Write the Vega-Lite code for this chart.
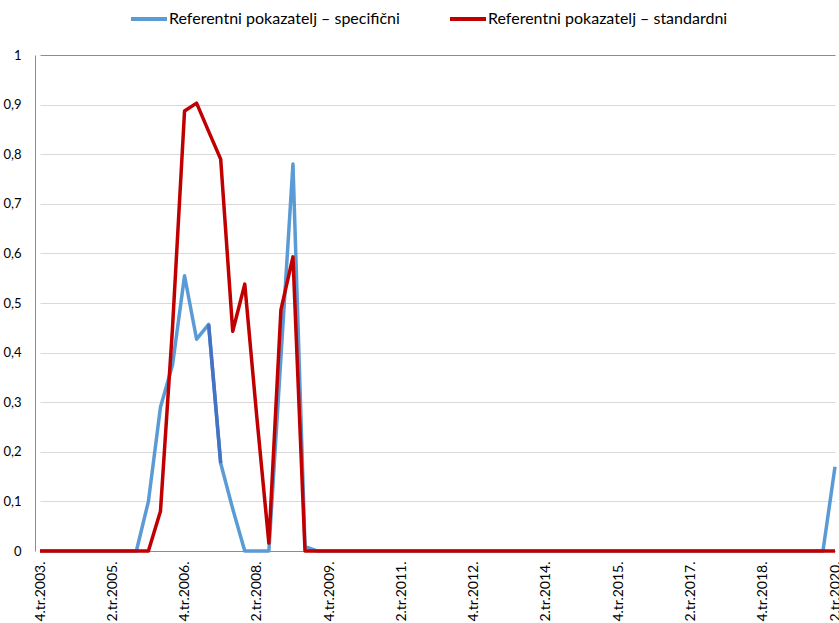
{
  "$schema": "https://vega.github.io/schema/vega-lite/v6.json",
  "autosize": {"type": "none"},
  "padding": {"left": 35, "top": 55, "right": 0, "bottom": 72},
  "width": 804,
  "height": 496,
  "background": "white",
  "config": {
    "view": {"stroke": null},
    "font": "Lato",
    "axis": {"labelFont": "Lato", "labelColor": "#000000", "labelFontSize": 13, "ticks": false, "domainColor": "#8c8c8c", "domainWidth": 1}
  },
  "data": {
    "values": [
      {"kvartal": "4.tr.2003.", "specificni": 0, "standardni": 0},
      {"kvartal": "1.tr.2004.", "specificni": 0, "standardni": 0},
      {"kvartal": "2.tr.2004.", "specificni": 0, "standardni": 0},
      {"kvartal": "3.tr.2004.", "specificni": 0, "standardni": 0},
      {"kvartal": "4.tr.2004.", "specificni": 0, "standardni": 0},
      {"kvartal": "1.tr.2005.", "specificni": 0, "standardni": 0},
      {"kvartal": "2.tr.2005.", "specificni": 0, "standardni": 0},
      {"kvartal": "3.tr.2005.", "specificni": 0, "standardni": 0},
      {"kvartal": "4.tr.2005.", "specificni": 0, "standardni": 0},
      {"kvartal": "1.tr.2006.", "specificni": 0.1, "standardni": 0},
      {"kvartal": "2.tr.2006.", "specificni": 0.29, "standardni": 0.08},
      {"kvartal": "3.tr.2006.", "specificni": 0.375, "standardni": 0.45},
      {"kvartal": "4.tr.2006.", "specificni": 0.555, "standardni": 0.887},
      {"kvartal": "1.tr.2007.", "specificni": 0.427, "standardni": 0.903},
      {"kvartal": "2.tr.2007.", "specificni": 0.457, "standardni": 0.846},
      {"kvartal": "3.tr.2007.", "specificni": 0.177, "standardni": 0.79},
      {"kvartal": "4.tr.2007.", "specificni": 0.085, "standardni": 0.443},
      {"kvartal": "1.tr.2008.", "specificni": 0, "standardni": 0.538},
      {"kvartal": "2.tr.2008.", "specificni": 0, "standardni": 0.27},
      {"kvartal": "3.tr.2008.", "specificni": 0, "standardni": 0.016},
      {"kvartal": "4.tr.2008.", "specificni": 0.39, "standardni": 0.486},
      {"kvartal": "1.tr.2009.", "specificni": 0.78, "standardni": 0.593},
      {"kvartal": "2.tr.2009.", "specificni": 0.009, "standardni": 0},
      {"kvartal": "3.tr.2009.", "specificni": 0, "standardni": 0},
      {"kvartal": "4.tr.2009.", "specificni": 0, "standardni": 0},
      {"kvartal": "1.tr.2010.", "specificni": 0, "standardni": 0},
      {"kvartal": "2.tr.2010.", "specificni": 0, "standardni": 0},
      {"kvartal": "3.tr.2010.", "specificni": 0, "standardni": 0},
      {"kvartal": "4.tr.2010.", "specificni": 0, "standardni": 0},
      {"kvartal": "1.tr.2011.", "specificni": 0, "standardni": 0},
      {"kvartal": "2.tr.2011.", "specificni": 0, "standardni": 0},
      {"kvartal": "3.tr.2011.", "specificni": 0, "standardni": 0},
      {"kvartal": "4.tr.2011.", "specificni": 0, "standardni": 0},
      {"kvartal": "1.tr.2012.", "specificni": 0, "standardni": 0},
      {"kvartal": "2.tr.2012.", "specificni": 0, "standardni": 0},
      {"kvartal": "3.tr.2012.", "specificni": 0, "standardni": 0},
      {"kvartal": "4.tr.2012.", "specificni": 0, "standardni": 0},
      {"kvartal": "1.tr.2013.", "specificni": 0, "standardni": 0},
      {"kvartal": "2.tr.2013.", "specificni": 0, "standardni": 0},
      {"kvartal": "3.tr.2013.", "specificni": 0, "standardni": 0},
      {"kvartal": "4.tr.2013.", "specificni": 0, "standardni": 0},
      {"kvartal": "1.tr.2014.", "specificni": 0, "standardni": 0},
      {"kvartal": "2.tr.2014.", "specificni": 0, "standardni": 0},
      {"kvartal": "3.tr.2014.", "specificni": 0, "standardni": 0},
      {"kvartal": "4.tr.2014.", "specificni": 0, "standardni": 0},
      {"kvartal": "1.tr.2015.", "specificni": 0, "standardni": 0},
      {"kvartal": "2.tr.2015.", "specificni": 0, "standardni": 0},
      {"kvartal": "3.tr.2015.", "specificni": 0, "standardni": 0},
      {"kvartal": "4.tr.2015.", "specificni": 0, "standardni": 0},
      {"kvartal": "1.tr.2016.", "specificni": 0, "standardni": 0},
      {"kvartal": "2.tr.2016.", "specificni": 0, "standardni": 0},
      {"kvartal": "3.tr.2016.", "specificni": 0, "standardni": 0},
      {"kvartal": "4.tr.2016.", "specificni": 0, "standardni": 0},
      {"kvartal": "1.tr.2017.", "specificni": 0, "standardni": 0},
      {"kvartal": "2.tr.2017.", "specificni": 0, "standardni": 0},
      {"kvartal": "3.tr.2017.", "specificni": 0, "standardni": 0},
      {"kvartal": "4.tr.2017.", "specificni": 0, "standardni": 0},
      {"kvartal": "1.tr.2018.", "specificni": 0, "standardni": 0},
      {"kvartal": "2.tr.2018.", "specificni": 0, "standardni": 0},
      {"kvartal": "3.tr.2018.", "specificni": 0, "standardni": 0},
      {"kvartal": "4.tr.2018.", "specificni": 0, "standardni": 0},
      {"kvartal": "1.tr.2019.", "specificni": 0, "standardni": 0},
      {"kvartal": "2.tr.2019.", "specificni": 0, "standardni": 0},
      {"kvartal": "3.tr.2019.", "specificni": 0, "standardni": 0},
      {"kvartal": "4.tr.2019.", "specificni": 0, "standardni": 0},
      {"kvartal": "1.tr.2020.", "specificni": 0, "standardni": 0},
      {"kvartal": "2.tr.2020.", "specificni": 0.17, "standardni": 0}
    ]
  },
  "transform": [
    {"fold": ["specificni", "standardni"], "as": ["serija_kljuc", "vrijednost"]},
    {"lookup": "serija_kljuc", "from": {"data": {"values": [
      {"serija_kljuc": "specificni", "serija": "Referentni pokazatelj – specifični"},
      {"serija_kljuc": "standardni", "serija": "Referentni pokazatelj – standardni"}
    ]}, "key": "serija_kljuc", "fields": ["serija"]}}
  ],
  "encoding": {
    "x": {
      "field": "kvartal",
      "type": "ordinal",
      "sort": null,
      "scale": {"type": "point", "range": [5, 800], "padding": 0},
      "axis": {
        "title": null,
        "values": ["4.tr.2003.", "2.tr.2005.", "4.tr.2006.", "2.tr.2008.", "4.tr.2009.", "2.tr.2011.", "4.tr.2012.", "2.tr.2014.", "4.tr.2015.", "2.tr.2017.", "4.tr.2018.", "2.tr.2020."],
        "labelAngle": -90,
        "labelAlign": "right",
        "labelBaseline": "middle",
        "labelPadding": 10,
        "labelFontSize": 14,
        "grid": false,
        "domainColor": "#8c8c8c"
      }
    },
    "y": {
      "field": "vrijednost",
      "type": "quantitative",
      "scale": {"domain": [0, 1], "nice": false},
      "axis": {
        "title": null,
        "values": [0, 0.1, 0.2, 0.3, 0.4, 0.5, 0.6, 0.7, 0.8, 0.9, 1],
        "labelExpr": "replace(format(datum.value, '~g'), '.', ',')",
        "labelPadding": 14,
        "labelFontSize": 13,
        "grid": true,
        "gridColor": {"condition": {"test": "datum.value == 1", "value": "#8c8c8c"}, "value": "#d9d9d9"},
        "gridWidth": 1,
        "domain": true
      }
    }
  },
  "layer": [
    {
      "mark": {"type": "line", "strokeWidth": 3.5, "strokeJoin": "round", "strokeCap": "butt"},
      "encoding": {
        "color": {
          "field": "serija",
          "type": "nominal",
          "scale": {"domain": ["Referentni pokazatelj – specifični", "Referentni pokazatelj – standardni"], "range": ["#5b9bd5", "#c00000"]},
          "legend": {
            "title": null,
            "orient": "none",
            "direction": "horizontal",
            "legendX": 94,
            "legendY": -56,
            "symbolType": "stroke",
            "symbolSize": 1296,
            "symbolStrokeWidth": 4,
            "labelFont": "Lato",
            "labelFontSize": 16,
            "labelColor": "#000000",
            "labelOffset": 0,
            "columnPadding": 42,
            "labelLimit": 400,
            "padding": 0
          }
        }
      }
    },
    {
      "transform": [
        {"filter": {"field": "serija_kljuc", "equal": "specificni"}},
        {"filter": {"field": "kvartal", "oneOf": ["2.tr.2007.", "3.tr.2007."]}}
      ],
      "mark": {"type": "line", "strokeWidth": 3.5, "strokeJoin": "round", "color": "#4472c4"},
      "encoding": {}
    }
  ]
}
